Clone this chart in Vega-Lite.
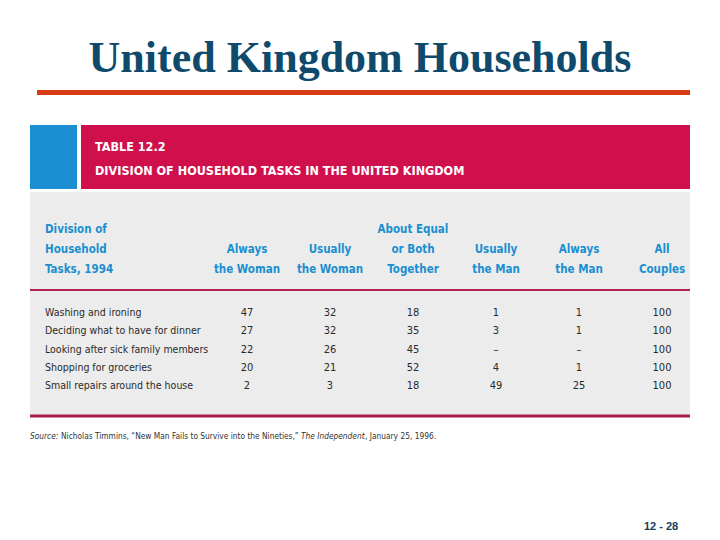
{
  "$schema": "https://vega.github.io/schema/vega-lite/v6.json",
  "width": 720,
  "height": 540,
  "autosize": {"type": "fit", "contains": "padding"},
  "padding": 0,
  "background": "white",
  "config": {"view": {"stroke": null}},
  "datasets": {
    "cells": [
      {"task": "Washing and ironing", "column": "Always the Woman", "share": 47},
      {"task": "Washing and ironing", "column": "Usually the Woman", "share": 32},
      {"task": "Washing and ironing", "column": "About Equal or Both Together", "share": 18},
      {"task": "Washing and ironing", "column": "Usually the Man", "share": 1},
      {"task": "Washing and ironing", "column": "Always the Man", "share": 1},
      {"task": "Washing and ironing", "column": "All Couples", "share": 100},
      {"task": "Deciding what to have for dinner", "column": "Always the Woman", "share": 27},
      {"task": "Deciding what to have for dinner", "column": "Usually the Woman", "share": 32},
      {"task": "Deciding what to have for dinner", "column": "About Equal or Both Together", "share": 35},
      {"task": "Deciding what to have for dinner", "column": "Usually the Man", "share": 3},
      {"task": "Deciding what to have for dinner", "column": "Always the Man", "share": 1},
      {"task": "Deciding what to have for dinner", "column": "All Couples", "share": 100},
      {"task": "Looking after sick family members", "column": "Always the Woman", "share": 22},
      {"task": "Looking after sick family members", "column": "Usually the Woman", "share": 26},
      {"task": "Looking after sick family members", "column": "About Equal or Both Together", "share": 45},
      {"task": "Looking after sick family members", "column": "Usually the Man", "share": null},
      {"task": "Looking after sick family members", "column": "Always the Man", "share": null},
      {"task": "Looking after sick family members", "column": "All Couples", "share": 100},
      {"task": "Shopping for groceries", "column": "Always the Woman", "share": 20},
      {"task": "Shopping for groceries", "column": "Usually the Woman", "share": 21},
      {"task": "Shopping for groceries", "column": "About Equal or Both Together", "share": 52},
      {"task": "Shopping for groceries", "column": "Usually the Man", "share": 4},
      {"task": "Shopping for groceries", "column": "Always the Man", "share": 1},
      {"task": "Shopping for groceries", "column": "All Couples", "share": 100},
      {"task": "Small repairs around the house", "column": "Always the Woman", "share": 2},
      {"task": "Small repairs around the house", "column": "Usually the Woman", "share": 3},
      {"task": "Small repairs around the house", "column": "About Equal or Both Together", "share": 18},
      {"task": "Small repairs around the house", "column": "Usually the Man", "share": 49},
      {"task": "Small repairs around the house", "column": "Always the Man", "share": 25},
      {"task": "Small repairs around the house", "column": "All Couples", "share": 100}
    ],
    "columns": [
      {"column": "Always the Woman", "header": "\nAlways\nthe Woman"},
      {"column": "Usually the Woman", "header": "\nUsually\nthe Woman"},
      {"column": "About Equal or Both Together", "header": "About Equal\nor Both\nTogether"},
      {"column": "Usually the Man", "header": "\nUsually\nthe Man"},
      {"column": "Always the Man", "header": "\nAlways\nthe Man"},
      {"column": "All Couples", "header": "\nAll\nCouples"}
    ],
    "one": [{}]
  },
  "layer": [
    {
      "data": {"name": "one"},
      "mark": {"type": "rect", "color": "#d93b14"},
      "encoding": {"x": {"value": 37}, "x2": {"value": 690}, "y": {"value": 90}, "y2": {"value": 95}}
    },
    {
      "data": {"name": "one"},
      "mark": {"type": "rect", "color": "#1c8fd2"},
      "encoding": {"x": {"value": 30}, "x2": {"value": 77}, "y": {"value": 125}, "y2": {"value": 189}}
    },
    {
      "data": {"name": "one"},
      "mark": {"type": "rect", "color": "#d0104d"},
      "encoding": {"x": {"value": 81}, "x2": {"value": 690}, "y": {"value": 125}, "y2": {"value": 189}}
    },
    {
      "data": {"name": "one"},
      "mark": {"type": "rect", "color": "#ececec"},
      "encoding": {"x": {"value": 30}, "x2": {"value": 690}, "y": {"value": 192}, "y2": {"value": 417}}
    },
    {
      "data": {"name": "one"},
      "mark": {"type": "rule", "color": "#b52050", "strokeWidth": 2},
      "encoding": {"x": {"value": 30}, "x2": {"value": 690}, "y": {"value": 290}}
    },
    {
      "data": {"name": "one"},
      "mark": {"type": "rule", "color": "#b0174a", "strokeWidth": 3},
      "encoding": {"x": {"value": 30}, "x2": {"value": 690}, "y": {"value": 416}}
    },
    {
      "data": {"name": "one"},
      "mark": {"type": "text", "text": "United Kingdom Households", "font": "Liberation Serif", "fontWeight": "bold", "fontSize": 44, "color": "#0f4a6c", "align": "center", "baseline": "alphabetic"},
      "encoding": {"x": {"value": 360}, "y": {"value": 72}}
    },
    {
      "data": {"name": "one"},
      "mark": {"type": "text", "text": "TABLE 12.2\nDIVISION OF HOUSEHOLD TASKS IN THE UNITED KINGDOM", "lineBreak": "\n", "lineHeight": 24, "font": "DejaVu Sans Condensed, Roboto", "fontWeight": "bold", "fontSize": 12.5, "color": "white", "align": "left", "baseline": "alphabetic"},
      "encoding": {"x": {"value": 95}, "y": {"value": 151}}
    },
    {
      "data": {"name": "one"},
      "mark": {"type": "text", "text": "Division of\nHousehold\nTasks, 1994", "lineBreak": "\n", "lineHeight": 20, "font": "DejaVu Sans Condensed, Roboto", "fontWeight": "bold", "fontSize": 11.5, "color": "#1a8fd0", "align": "left", "baseline": "alphabetic"},
      "encoding": {"x": {"value": 45}, "y": {"value": 233}}
    },
    {
      "data": {"name": "columns"},
      "mark": {"type": "text", "lineBreak": "\n", "lineHeight": 20, "font": "DejaVu Sans Condensed, Roboto", "fontWeight": "bold", "fontSize": 11.5, "color": "#1a8fd0", "align": "center", "baseline": "alphabetic"},
      "encoding": {
        "x": {"field": "column", "type": "nominal", "axis": null, "scale": {"type": "point", "domain": ["Always the Woman", "Usually the Woman", "About Equal or Both Together", "Usually the Man", "Always the Man", "All Couples"], "range": [247, 662], "padding": 0}},
        "y": {"value": 233},
        "text": {"field": "header", "type": "nominal"}
      }
    },
    {
      "data": {"name": "cells"},
      "transform": [{"filter": "datum.column === 'All Couples'"}],
      "mark": {"type": "text", "font": "DejaVu Sans Condensed, Roboto", "fontSize": 10.5, "color": "#2a2a2a", "align": "left", "baseline": "middle"},
      "encoding": {
        "x": {"value": 45},
        "y": {"field": "task", "type": "nominal", "axis": null, "scale": {"type": "point", "domain": ["Washing and ironing", "Deciding what to have for dinner", "Looking after sick family members", "Shopping for groceries", "Small repairs around the house"], "range": [313, 386], "padding": 0}},
        "text": {"field": "task", "type": "nominal"}
      }
    },
    {
      "data": {"name": "cells"},
      "mark": {"type": "text", "font": "DejaVu Sans Condensed, Roboto", "fontSize": 11, "color": "#2a2a2a", "align": "center", "baseline": "middle"},
      "encoding": {
        "x": {"field": "column", "type": "nominal", "axis": null},
        "y": {"field": "task", "type": "nominal", "axis": null},
        "text": {"condition": {"test": "datum.share === null", "value": "–"}, "field": "share", "type": "quantitative"}
      }
    },
    {
      "data": {"name": "one"},
      "mark": {"type": "text", "text": "Source:", "font": "DejaVu Sans Condensed, Roboto", "fontStyle": "italic", "fontSize": 8.3, "color": "#333333", "align": "left", "baseline": "alphabetic"},
      "encoding": {"x": {"value": 30}, "y": {"value": 439}}
    },
    {
      "data": {"name": "one"},
      "mark": {"type": "text", "text": "Nicholas Timmins, “New Man Fails to Survive into the Nineties,”", "font": "DejaVu Sans Condensed, Roboto", "fontSize": 8.3, "color": "#333333", "align": "left", "baseline": "alphabetic"},
      "encoding": {"x": {"value": 61}, "y": {"value": 439}}
    },
    {
      "data": {"name": "one"},
      "mark": {"type": "text", "text": "The Independent", "font": "DejaVu Sans Condensed, Roboto", "fontStyle": "italic", "fontSize": 8.3, "color": "#333333", "align": "left", "baseline": "alphabetic"},
      "encoding": {"x": {"value": 301}, "y": {"value": 439}}
    },
    {
      "data": {"name": "one"},
      "mark": {"type": "text", "text": ", January 25, 1996.", "font": "DejaVu Sans Condensed, Roboto", "fontSize": 8.3, "color": "#333333", "align": "left", "baseline": "alphabetic"},
      "encoding": {"x": {"value": 365}, "y": {"value": 439}}
    },
    {
      "data": {"name": "one"},
      "mark": {"type": "text", "text": "12 - 28", "font": "Liberation Sans", "fontWeight": "bold", "fontSize": 11, "color": "#123e5c", "align": "center", "baseline": "alphabetic"},
      "encoding": {"x": {"value": 661}, "y": {"value": 530}}
    }
  ]
}
